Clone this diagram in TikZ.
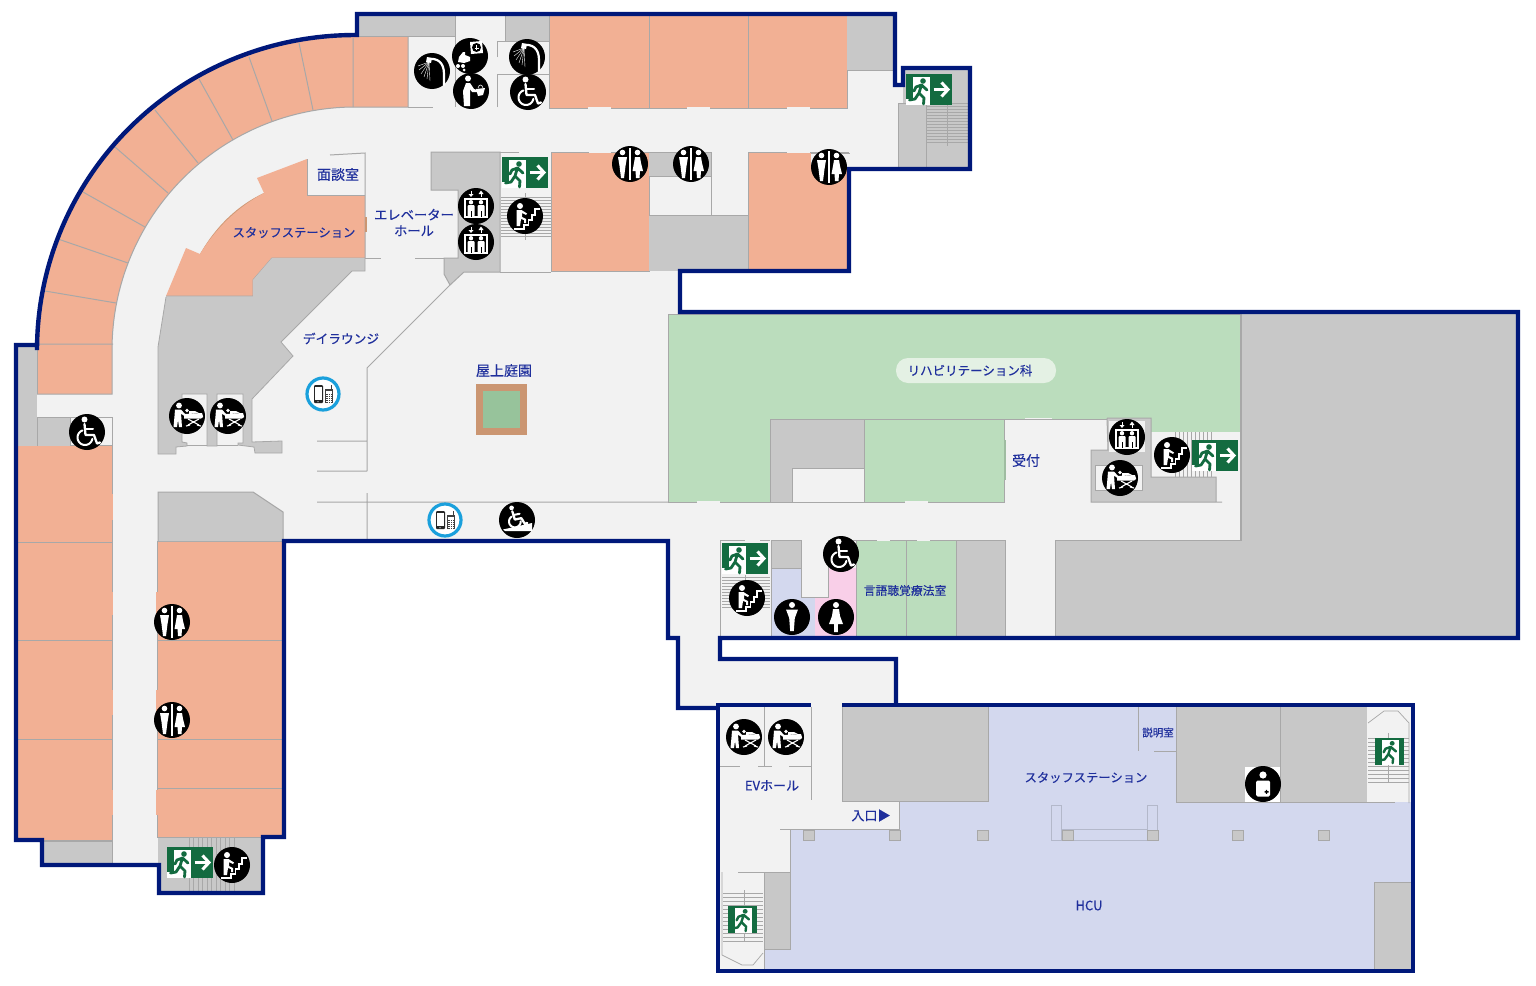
\documentclass[tikz,border=0pt]{standalone}
\usepackage{fontspec}
\setmainfont[RawFeature={embolden=0.35}]{Noto Sans CJK JP}
\definecolor{navy}{HTML}{00187A}
\definecolor{floorc}{HTML}{F2F2F2}
\definecolor{peach}{HTML}{F2B094}
\definecolor{grayr}{HTML}{C8C8C8}
\definecolor{wall}{HTML}{A8A8A8}
\definecolor{greenr}{HTML}{BBDDBD}
\definecolor{lav}{HTML}{D3D8EE}
\definecolor{pinkr}{HTML}{F9CFE8}
\definecolor{txt}{HTML}{1F2F9C}
\definecolor{exitg}{HTML}{136B40}
\definecolor{ringb}{HTML}{1AA0DC}
\definecolor{tanr}{HTML}{CB9672}
\definecolor{gardeng}{HTML}{97C39B}
\tikzset{
  x=1pt,y=-1pt,
  room/.style={draw=wall,line width=1pt},
  wl/.style={draw=wall,line width=1pt},
  gapl/.style={draw=floorc,line width=1.4pt},
  thin stair/.style={draw=wall,line width=0.7pt},
  lbl/.style={text=txt,font=\fontsize{13}{15}\selectfont,inner sep=0pt,align=center},
  wh/.style={fill=white,draw=none},
  wl2/.style={draw=white,line width=1.6pt,line cap=round,line join=round},
  pillar/.style={fill=grayr,draw=wall,line width=0.7pt},
}
% ---------- icons ----------
\newcommand{\bgc}{\fill[black] (0,0) circle[radius=18pt];}
\newcommand{\icoPair}[2]{\begin{scope}[shift={(#1,#2)}]\bgc
  \fill[wh] (-7.5,-11.5) circle[radius=2.8pt] (7.5,-11.5) circle[radius=2.8pt];
  \fill[wh] (-12,-7)--(-3,-7)--(-4.5,2)--(-6,14)--(-9,14)--(-10.5,2)--cycle;
  \fill[wh] (5,-7)--(10,-7)--(11,-1)--(13,7)--(10,7)--(9.5,14)--(6,14)--(5.5,7)--(2.5,7)--(4,-1)--cycle;
  \draw[white,line width=1.2pt] (0,-16)--(0,16);
\end{scope}}
\newcommand{\icoMan}[2]{\begin{scope}[shift={(#1,#2)}]\bgc
  \fill[wh] (0,-12) circle[radius=3pt];
  \fill[wh] (-6,-7.5)--(6,-7.5)--(2.8,1)--(1.8,14)--(-1.8,14)--(-2.8,1)--cycle;
\end{scope}}
\newcommand{\icoWoman}[2]{\begin{scope}[shift={(#1,#2)}]\bgc
  \fill[wh] (0,-12) circle[radius=3pt];
  \fill[wh] (-3,-8)--(3,-8)--(4,-1)--(7,7)--(2,7)--(1.8,15)--(-1.8,15)--(-2,7)--(-7,7)--(-4,-1)--cycle;
\end{scope}}
\newcommand{\wheelfig}{
  \fill[wh] (-2.5,-12.5) circle[radius=3pt];
  \draw[wl2,line width=2.3pt] (-2.5,-8)--(-1.5,3)--(7,3)--(10,11.5)--(13,10.5);
  \draw[wl2,line width=2pt] (-2,-3)--(6,-3);
  \draw[wl2,line width=2pt] plot[domain=10:250,samples=25] ({-2+7.5*cos(\x)},{5.5+7.5*sin(\x)});
}
\newcommand{\icoWheel}[2]{\begin{scope}[shift={(#1,#2)}]\bgc\wheelfig\end{scope}}
\newcommand{\icoRamp}[2]{\begin{scope}[shift={(#1,#2)}]\bgc
  \begin{scope}[shift={(-1.5,-3)},scale=0.78,rotate=12]\wheelfig\end{scope}
  \fill[wh] (-14,9.5)--(15,3)--(15,11)--(-12,11)--cycle;
\end{scope}}
\newcommand{\icoLift}[2]{\begin{scope}[shift={(#1,#2)}]\bgc
  \draw[white,line width=1.6pt] (-11,-7)rectangle(11,11);
  \fill[wh] (-5,-3.8) circle[radius=2.2pt] (5,-3.8) circle[radius=2.2pt];
  \fill[wh,rounded corners=1pt] (-8.5,-1)--(-1.5,-1)--(-1.5,10.5)--(-8.5,10.5)--cycle (8.5,-1)--(1.5,-1)--(1.5,10.5)--(8.5,10.5)--cycle;
  \draw[black,line width=.8pt] (-5,5)--(-5,10.5) (5,5)--(5,10.5);
  \draw[white,line width=1pt] (-5,-15)--(-5,-11);
  \fill[wh] (-7.5,-12)--(-2.5,-12)--(-5,-9)--cycle;
  \draw[white,line width=1pt] (5,-12)--(5,-9);
  \fill[wh] (2.5,-12)--(7.5,-12)--(5,-15.5)--cycle;
\end{scope}}
\newcommand{\icoStairs}[2]{\begin{scope}[shift={(#1,#2)}]\bgc
  \fill[wh] (-5,-10) circle[radius=3pt];
  \fill[wh] (-8.5,-6)--(-3.5,-6)--(2,-2.5)--(1,-1)--(-3,-3)--(-3,1)--(1,3)--(1,7)--(-1,7)--(-1,4)--(-4,3)--(-5,10)--(-8.5,10)--cycle;
  \draw[wl2,line cap=butt,line join=miter] (-11,13)--(-1,13)--(-1,9)--(3.5,9)--(3.5,4)--(7,4)--(7,-1)--(10,-1)--(10,-7)--(15,-7);
\end{scope}}
\newcommand{\icoBed}[2]{\begin{scope}[shift={(#1,#2)}]\bgc
  \fill[wh] (-8,-10.5) circle[radius=2.9pt];
  \fill[wh] (-12,-6.5)--(-6,-6.5)--(-2,-2)--(-3.5,-0.5)--(-6,-2.5)--(-5,11)--(-8,11)--(-9,4)--(-10,11)--(-13.5,11)--(-12.5,0)--cycle;
  \fill[wh] (-3,-2)--(15,-3)--(16.2,1)--(14,2.5)--(-3,2.5)--cycle;
  \fill[wh] (0,-5.5) circle[radius=1.8pt];
  \fill[wh] (2,-5)--(8,-5)--(12,-3)--(2,-2)--cycle;
  \draw[white,line width=1.1pt] (1,3)--(12,9) (12,3)--(1,9) (-1,10)--(3,9) (10,9)--(14,10);
\end{scope}}
\newcommand{\icoShower}[2]{\begin{scope}[shift={(#1,#2)}]\bgc
  \draw[white,line width=2.2pt,line cap=round] (12,14)--(12,3) .. controls (12,-9) and (5,-13) .. (-3,-12);
  \fill[wh] (-5,-14)--(0,-13)--(-1,-8)--(-6,-9)--cycle;
  \foreach \a/\b in {-14/-5,-13/-1,-11/3,-8/6,-5/8,-2/10}{\draw[white,line width=0.4pt] (-3,-9)--(\a,\b);}
\end{scope}}
\newcommand{\icoBaby}[2]{\begin{scope}[shift={(#1,#2)}]\bgc
  \fill[wh] (0,-14)--(12,-15)--(13,-3)--(1,-2)--cycle;
  \fill[black] (6.5,-8.5) circle[radius=4.5pt];
  \draw[white,line width=0.8pt] (6.5,-11)--(6.5,-6) (4.5,-8)--(8.5,-8);
  \fill[wh] (-11,1)--(-7,-4)--(-5,-4)--(-5,-1)--(0,1)--(0,5)--(-6,7)--(-12,6)--cycle;
  \fill[wh] (-12,10) circle[radius=2pt] (-7,10) circle[radius=2pt] (-6,14) circle[radius=1.5pt];
\end{scope}}
\newcommand{\icoWash}[2]{\begin{scope}[shift={(#1,#2)}]\bgc
  \fill[wh] (-3,-12.5) circle[radius=3pt];
  \fill[wh] (-5,-8)--(-1,-8)--(3,-2)--(6,-1)--(6,1)--(1,1)--(-1,-2)--(-1,15)--(-7,15)--(-8,0)--cycle;
  \fill[wh] (5,-2)--(14,-3)--(12,4)--(7,5)--cycle;
  \draw[white,line width=0.6pt] (7,-3) .. controls (8,-7) and (11,-7) .. (12,-3);
\end{scope}}
\newcommand{\icoAED}[2]{\begin{scope}[shift={(#1,#2)}]\bgc
  \fill[wh] (0,-9) circle[radius=3.6pt];
  \fill[wh,rounded corners=1.5pt] (-7,-3.5) rectangle (7,12.5);
  \fill[black] (1.5,7)rectangle(5.5,8.5) (2.8,5.8)rectangle(4.2,9.8);
\end{scope}}
\newcommand{\icoPhone}[2]{\begin{scope}[shift={(#1,#2)}]
  \filldraw[fill=white,draw=ringb,line width=3.2pt] (0,0) circle[radius=16pt];
  \fill[black!85,rounded corners=1pt] (-9,-9) rectangle (0,9);
  \fill[white] (-8,-7.5) rectangle (-1,6);
  \fill[white] (-5,7.7) circle[radius=.6pt];
  \fill[black!75] (2,-5) rectangle (10,9);
  \draw[black!75,line width=.8pt] (8.5,-5)--(8.5,-9);
  \fill[white] (3,-3.5) rectangle (9,-0.5);
  \foreach \r in {1,3,5,7}{\draw[white,line width=.5pt] (3,\r)--(9,\r);}
  \foreach \c in {5,7}{\draw[white,line width=.5pt] (\c,0)--(\c,8.5);}
\end{scope}}
\newcommand{\runner}{
  \fill[white] (7,3) rectangle (24,31);
  \fill[white] (0,25) rectangle (8,31);
  \fill[exitg] (17,7) circle[radius=2.8pt];
  \draw[exitg,line width=2.8pt,line cap=round,line join=round] (15.5,11)--(13,19)--(18,24)--(17.5,30) (13,19)--(9,25)--(3.5,26) (15.5,11)--(21,16) (15.5,11)--(10,13)--(8,17);
}
\newcommand{\exitR}[2]{\begin{scope}[shift={(#1,#2)}]
  \fill[exitg] (0,0) rectangle (46,31);
  \runner
  \draw[white,line width=3pt] (27.5,15.5)--(41,15.5);
  \draw[white,line width=3pt,line join=miter] (35.5,8.5)--(42,15.5)--(35.5,22.5);
\end{scope}}
\newcommand{\exitV}[2]{\begin{scope}[shift={(#1,#2)}]
  \fill[exitg] (0,0) rectangle (29,27);
  \begin{scope}[shift={(1,-1)},yscale=0.9,xscale=0.95]
  \fill[white] (6,3) rectangle (24,31);
  \fill[exitg] (17,7) circle[radius=2.6pt];
  \draw[exitg,line width=2.4pt,line cap=round,line join=round] (15.5,11)--(13,19)--(18,24)--(17.5,29) (13,19)--(9,25)--(4,26) (15.5,11)--(21,16) (15.5,11)--(10,13)--(8,17);
  \end{scope}
\end{scope}}
\begin{document}
\begin{tikzpicture}
\useasboundingbox (0,0) rectangle (1536,985);
\fill[white] (0,0) rectangle (1536,985);
% ---- floor ----
\fill[floorc] (718,708)--(678,708)--(678,638)--(668,638)--(668,541)--(284,541)--(284,837)--(263,837)--(263,893)--(159,893)--(159,865)--(42,865)--(42,840)--(16,840)--(16,345)--(37,345)
  -- plot[domain=180:90,samples=80] ({355+318*cos(\x)},{350-315*sin(\x)})
  --(357,14)--(895,14)--(895,85)--(903,85)--(903,68)--(970,68)--(970,169)--(849,169)--(849,271)--(680,271)--(680,312)--(1518,312)--(1518,638)--(720,638)--(720,659)--(896,659)--(896,705)--(718,705)--cycle;
\fill[floorc] (718,705) rectangle (1413,971);
% ---- curved peach wing ----
\fill[peach] (37,394)--(37,350) -- plot[domain=180:90,samples=80] ({355+318*cos(\x)},{350-315*sin(\x)})
  --(408,35)--(408,107)--(355,107) -- plot[domain=90:180,samples=80] ({355+243*cos(\x)},{350-243*sin(\x)}) --(112,394)--cycle;
\draw[wl] (408,36)--(408,107)--(355,107) -- plot[domain=90:180,samples=80] ({355+243*cos(\x)},{350-243*sin(\x)}) --(112,394)--(37,394);
\draw[wl] (353,38)--(353,107) (299,43)--(313,110) (249,57)--(272,121) (199,79)--(233,140) (155,110)--(198,163) (115,147)--(168,193) (83,192)--(145,227) (58,239)--(128,263) (45,291)--(116,303) (37,344)--(113,344);
% left wing
\fill[peach] (16,445) rectangle (112,840);
\draw[wl] (16,445)--(112,445)--(112,840)--(16,840) (16,542)--(112,542) (16,640)--(112,640) (16,739)--(112,739);
\fill[peach] (157,541) rectangle (283,837);
\draw[wl] (157,837)--(157,541)--(283,541) (157,640)--(283,640) (157,739)--(283,739) (157,788)--(283,788) (157,837)--(283,837);
\foreach \a/\b in {494/520,592/615,690/715,790/815}{\draw[peach,line width=1.2pt] (112,\a)--(112,\b);}
\foreach \a/\b in {592/615,690/715,790/815}{\draw[peach,line width=1.2pt] (157,\a)--(157,\b);}
% grays left
\fill[grayr] (16,347) rectangle (37,446);
\fill[grayr] (37,417) rectangle (70,446);
\draw[wl] (37,347)--(37,394) (37,417)--(37,446) (37,417)--(112,417)--(112,445) (70,417)--(70,446);
\fill[grayr] (42,841) rectangle (112,863);
\draw[wl] (42,841)--(112,841)--(112,863);
% bottom stairs
\fill[grayr] (158,838) rectangle (262,892);
\foreach \i in {189,193.5,...,238}{\draw[thin stair] (\i,838)--(\i,892);}
\exitR{167}{847}
% ---- staff station ----
\fill[tanr!85!peach] (264,193)..controls (238,205) and (216,226) .. (200,254)--(203,255) .. controls (219,228) and (240,208) .. (266,196)--cycle;
\fill[peach] (307,159)--(257,178)--(264,193) .. controls (238,207) and (216,228) .. (200,254)--(186,248)--(166,296)--(253,296)--(253,280)--(272,258)--(365,258)--(365,195)--(307,195)--cycle;
\draw[wl] (166,296)--(253,296)--(253,280)--(272,258)--(365,258)--(365,153)--(330,155);
\draw[wl] (307,159)--(307,195)--(365,195);
\fill[tanr] (365,217) rectangle (367,232);
% gray mass
\fill[grayr] (166,297)--(253,297)--(253,280)--(272,258)--(365,258)--(365,271)--(352,271)--(281,342)--(293,356)--(252,399)--(252,442)--(282,441)--(282,453)--(255,453)--(254,447)--(238,445)--(238,443)--(243,443)--(243,394)--(217,394)--(217,446)--(207,446)--(207,394)--(182,394)--(182,442)--(187,443)--(187,446)--(176,447)--(176,454)--(158,454)--(158,347)--cycle;
\draw[wl,line width=.8pt] (166,297)--(158,347)--(158,454)--(176,454)--(176,447)--(187,446)--(187,443)--(182,442)--(182,394)--(207,394)--(207,446)--(217,446)--(217,394)--(243,394)--(243,443)--(238,443)--(238,445)--(254,447)--(255,453)--(282,453)--(282,441)--(252,442)--(252,399)--(293,356)--(281,342)--(352,271)--(365,271)--(365,258);
\draw[wl] (365,258)--(381,258) (415,258)--(458,258);
\draw[wl] (187,445)--(207,445) (217,445)--(238,445);
% lounge lines
\draw[wl] (317,441)--(367,441) (367,368)--(367,471) (317,471)--(367,471) (367,368)--(450,285) (317,502)--(668,502) (367,493)--(367,540);
\fill[grayr] (158,492)--(253,492)--(283,512)--(283,541)--(158,541)--cycle;
\draw[wl] (158,541)--(158,492)--(253,492)--(283,512)--(283,541);
% garden
\fill[tanr] (476,384) rectangle (527,435);
\fill[gardeng] (483,391) rectangle (520,428);
% ---- top part ----
\fill[grayr] (358,16) rectangle (455,36);
\draw[wl] (358,36)--(455,36)--(455,107) (455,16)--(455,36) (408,107)--(433,107);
\fill[grayr] (505,16) rectangle (549,41);
\draw[wl] (505,16)--(505,41) (497,57)--(497,41)--(549,41) (497,107)--(497,74)--(549,74);
\fill[peach] (549,16) rectangle (847,108);
\draw[wl] (549,16)--(549,108)--(847,108)--(847,16) (649,16)--(649,108) (748,16)--(748,108);
\foreach \a/\b in {588/611,687/710,787/810}{\draw[gapl] (\a,108)--(\b,108);}
\fill[grayr] (847,16) rectangle (893,70);
\draw[wl] (847,70)--(893,70);
% right stairs
\fill[grayr] (898,103) rectangle (968,167);
\fill[grayr] (903,70) rectangle (968,103);
\draw[wl] (898,103)--(968,103) (898,103)--(898,167) (926,103)--(926,167);
\foreach \i in {106,109,...,142}{\draw[thin stair] (926,\i)--(968,\i);}
\draw[wl] (947,105)--(947,146);
% core
\fill[grayr] (431,152)--(500,152)--(500,272)--(464,272)--(450,285)--(444,274)--(444,258)--(458,258)--(458,190)--(431,190)--cycle;
\draw[wl] (431,152)--(500,152)--(500,272)--(464,272)--(450,285)--(444,274)--(444,258)--(458,258)--(458,190)--(431,190)--cycle;
\draw[wl] (519,152)--(500,152) (500,272)--(551,272);
\foreach \i in {197,200,...,237}{\draw[thin stair] (501,\i)--(551,\i);}
\draw[wl] (525,193)--(525,240);
\fill[peach] (551,152) rectangle (649,271);
\draw[wl] (551,152) rectangle (649,271);
\foreach \a/\b in {589/611}{\draw[gapl] (\a,152)--(\b,152);}
\fill[grayr] (649,152) rectangle (711,176);
\draw[wl] (649,152)--(711,152)--(711,215) (649,176)--(711,176);
\fill[grayr] (649,215) rectangle (748,271);
\draw[wl] (649,215)--(748,215);
\fill[peach] (748,152) rectangle (849,271);
\draw[wl] (849,271)--(748,271)--(748,152)--(849,152);
\draw[gapl] (787,152)--(810,152);
\fill[floorc] (811,153) rectangle (849,169);
\draw[wl] (811,153)--(850,153);
% ---- right block ----
\fill[greenr] (668,314)--(1240,314)--(1240,432)--(1151,432)--(1151,419)--(1004,419)--(1004,502)--(668,502)--cycle;
\draw[wl] (668,314)--(668,502)--(1004,502)--(1004,419)--(864,419) (668,314)--(1240,314)--(1240,540)--(1055,540)--(1055,638) (1151,432)--(1240,432);
\draw[gapl] (697,502)--(720,502) (905,502)--(928,502) (1025,419)--(1052,419);
\fill[grayr] (1241,314) rectangle (1516,636);
\fill[grayr] (1055,540) rectangle (1241,636);
\draw[wl] (1055,636)--(1055,540)--(1241,540)--(1241,314);
\fill[grayr] (770,419) rectangle (864,502);
\fill[floorc] (792,468) rectangle (864,502);
\draw[wl] (770,502)--(770,419)--(864,419)--(864,502)--(792,502)--(792,468)--(864,468);
\draw[wl] (1004,419)--(1108,419);
\draw[greenr!85!black,line width=2pt] (1005,440)--(1005,480);
% lift & stairs right
\fill[floorc] (1151,432) rectangle (1240,477);
\foreach \i in {1175,1179,...,1213}{\draw[thin stair] (\i,432)--(\i,477);}
\fill[grayr] (1107,418)--(1151,418)--(1151,477)--(1216,477)--(1216,502)--(1091,502)--(1091,450)--(1108,450)--cycle;
\draw[wl] (1107,418)--(1151,418)--(1151,477)--(1216,477)--(1216,502) (1222,502)--(1091,502)--(1091,450)--(1108,450)--(1107,418);
\fill[floorc] (1095,465) rectangle (1142,490);
\draw[wl,line width=.7pt] (1095,465) rectangle (1142,490);
\fill[floorc] (1109,421) rectangle (1145,452);
% ---- lower rooms ----
\draw[wl] (720,636)--(720,540)--(745,540) (760,540)--(770,540);
\foreach \i in {577,580,...,609}{\draw[thin stair] (722,\i)--(770,\i);}
\draw[wl] (745,575)--(745,612);
\fill[grayr] (771,540) rectangle (801,568);
\fill[lav] (771,568) rectangle (801,597);
\fill[lav] (771,597) rectangle (815,636);
\draw[wl] (771,636)--(771,540)--(801,540)--(801,568)--(771,568) (801,568)--(801,597)--(815,597)--(815,636);
\fill[pinkr] (828,568) rectangle (856,597);
\fill[pinkr] (815,597) rectangle (856,636);
\draw[wl] (815,597)--(828,597)--(828,540)--(856,540);
\fill[greenr] (856,540) rectangle (956,636);
\draw[wl] (856,636)--(856,540)--(956,540) (906,540)--(906,636);
\fill[grayr] (956,540) rectangle (1005,636);
\draw[wl] (956,636)--(956,540)--(1005,540)--(1005,636);
\draw[gapl] (877,540)--(890,540) (917,540)--(930,540);
\fill[grayr] (1055,540) rectangle (1241,636);
\draw[wl] (1055,636)--(1055,540)--(1241,540);
% ---- lower building ----
\fill[lav] (842,707)--(1411,707)--(1411,969)--(764,969)--(764,872)--(790,872)--(790,829)--(899,829)--(899,801)--(842,801)--cycle;
\fill[grayr] (842,707) rectangle (988,801);
\draw[wl] (842,707)--(842,801)--(988,801)--(988,707);
\draw[wl] (842,801)--(899,801)--(899,829)--(780,829) (790,829)--(790,872)--(738,872);
\draw[wl] (764,707)--(764,766) (811,707)--(811,800) (720,766)--(740,766) (758,766)--(772,766) (789,766)--(811,766);
\fill[grayr] (764,873) rectangle (790,949);
\draw[wl] (764,873)--(764,969) (764,949)--(790,949)--(790,873);
\draw[wl,line width=.7pt] (722,872)--(722,955)--(742,965)--(753,965)--(763,953);
\foreach \i in {893,897,...,941}{\draw[thin stair] (723,\i)--(763,\i);}
\draw[wl] (744,890)--(744,942);
% rooms upper right
\draw[wl] (1138,707)--(1138,751) (1154,751)--(1176,751);
\fill[grayr] (1176,707) rectangle (1367,802);
\draw[wl] (1367,707)--(1367,802)--(1176,802)--(1176,707) (1280,707)--(1280,802);
\fill[white] (1245,767) rectangle (1280,802);
\fill[floorc] (1367,707) rectangle (1411,802);
\draw[wl,line width=.7pt] (1368,723)--(1384,711)--(1398,711)--(1409,723)--(1409,803);
\draw[wl] (1367,802)--(1395,802);
\foreach \i in {738,742,...,782}{\draw[thin stair] (1368,\i)--(1409,\i);}
\draw[wl] (1388,733)--(1388,783);
\fill[grayr] (1374,882) rectangle (1411,969);
\draw[wl] (1374,969)--(1374,882)--(1411,882);
% pillars
\draw[lav!85!black,line width=.6pt] (1051,805) rectangle (1061,840) (1147,805) rectangle (1157,840) (1062,829) rectangle (1147,840);
\foreach \i in {803,889,977,1062,1147,1232,1318}{\draw[pillar] (\i,830) rectangle (\i+11,840);}
% ---- outline ----
\draw[navy,line width=4.4pt,line join=miter] (718,708)--(678,708)--(678,638)--(668,638)--(668,541)--(284,541)--(284,837)--(263,837)--(263,893)--(159,893)--(159,865)--(42,865)--(42,840)--(16,840)--(16,345)--(37,345)
  -- plot[domain=180:90,samples=80] ({355+318*cos(\x)},{350-315*sin(\x)})
  --(357,35)--(357,14)--(895,14)--(895,85)--(903,85)--(903,68)--(970,68)--(970,169)--(849,169)--(849,271)--(680,271)--(680,312)--(1518,312)--(1518,638)--(720,638)--(720,659)--(896,659)--(896,705);
\draw[navy,line width=4.4pt,line join=miter] (842,705)--(1413,705)--(1413,971)--(718,971)--(718,705)--(811,705);
% ---- icons ----
\icoShower{432}{71}\icoShower{527}{57}\icoBaby{470}{56}\icoWash{471}{91}
\icoWheel{528}{92}\icoWheel{87}{432}\icoWheel{841}{554}
\icoLift{476}{206}\icoLift{476}{242}\icoLift{1127}{437}
\icoStairs{525}{216}\icoStairs{747}{598}\icoStairs{1172}{455}\icoStairs{232}{865}
\icoBed{187}{416}\icoBed{228}{416}\icoBed{1120}{478}\icoBed{744}{737}\icoBed{786}{737}
\icoPair{630}{164}\icoPair{691}{164}\icoPair{829}{167}\icoPair{172}{622}\icoPair{172}{720}
\icoMan{792}{617}\icoWoman{836}{617}
\icoPhone{323}{394}\icoPhone{445}{520}
\icoRamp{517}{520}
\icoAED{1263}{784}
\exitR{502}{157}\exitR{906}{74}\exitR{1192}{440}\exitR{722}{543}
\exitV{728}{906}\exitV{1375}{738}
% ---- labels ----
\fill[white!60!greenr,rounded corners=12pt] (896,358) rectangle (1056,383);
\node[lbl,font=\fontsize{14}{16}\selectfont] (t1) at (338,174.5) {面談室};
\node[lbl,font=\fontsize{12.3}{15}\selectfont] (t2) at (294,232.5) {スタッフステーション};
\node[lbl,font=\fontsize{13.3}{16}\selectfont] (t3) at (414,222.5) {エレベーター\\ホール};
\node[lbl,font=\fontsize{12.7}{15}\selectfont] (t4) at (341,338.5) {デイラウンジ};
\node[lbl,font=\fontsize{14}{16}\selectfont] (t5) at (504,370.5) {屋上庭園};
\node[lbl,font=\fontsize{12.5}{15}\selectfont] (t6) at (970,370.5) {リハビリテーション科};
\node[lbl,font=\fontsize{14}{16}\selectfont] (t7) at (1026,460.5) {受付};
\node[lbl,font=\fontsize{11.8}{15}\selectfont] (t8) at (905,590.5) {言語聴覚療法室};
\node[lbl] (t9) at (772,785.5) {EVホール};
\node[lbl] (t10) at (871,815.5) {入口▶};
\node[lbl,font=\fontsize{12.3}{15}\selectfont] (t11) at (1086,777.5) {スタッフステーション};
\node[lbl,font=\fontsize{10.5}{13}\selectfont] (t12) at (1158,732.5) {説明室};
\node[lbl] (t13) at (1089,905.5) {HCU};
\end{tikzpicture}
\end{document}
